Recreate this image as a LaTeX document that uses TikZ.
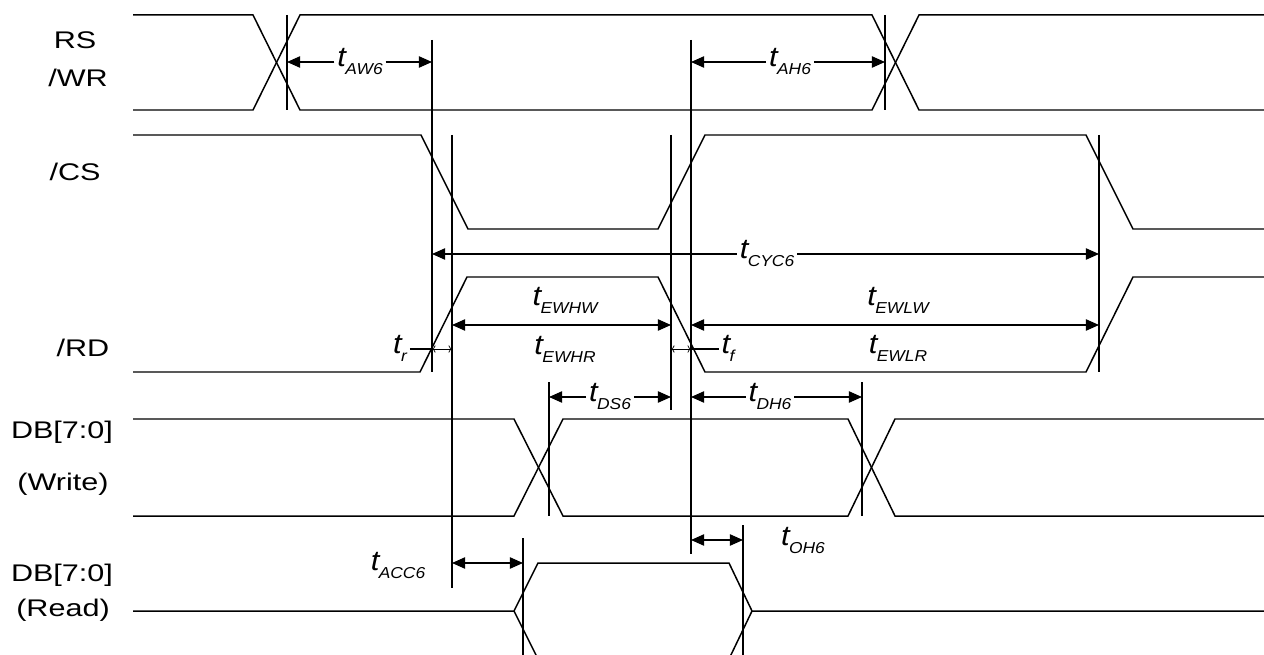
\documentclass[tikz,border=0pt]{standalone}
\usepackage{fontspec}
\setmainfont{Liberation Sans}
\usetikzlibrary{arrows.meta}
\newcommand{\wide}[1]{\scalebox{1.27}[1]{#1}}
\newcommand{\tsub}[1]{\scalebox{1.1}[1]{\itshape{\fontsize{16}{16}\selectfont t}\kern-0.3pt\raisebox{-4.5pt}{\fontsize{9}{9}\selectfont #1}}}

\begin{document}
\begin{tikzpicture}[x=0.02cm, y=-0.02cm,
  wave/.style={line width=0.85pt},
  guide/.style={line width=0.7pt},
  dim/.style={line width=0.7pt, -{Triangle[length=7.5pt,width=6.5pt]}},
  dimboth/.style={line width=0.7pt, {Triangle[length=7.5pt,width=6.5pt]}-{Triangle[length=7.5pt,width=6.5pt]}},
  tick/.style={line width=0.4pt, {To[length=2pt]}-{To[length=2pt]}},
  sig/.style={font=\fontsize{13.7}{16}\selectfont},
  lbl/.style={font=\fontsize{13.7}{16}\selectfont, anchor=mid, inner sep=1.5pt}]
\useasboundingbox (0,0) rectangle (1264,655);

% signal names
\node[sig] (lrs) at (75,40) {\wide{RS}};
\node[sig] (lwr) at (78,78) {\wide{/WR}};
\node[sig] (lcs) at (75,172) {\wide{/CS}};
\node[sig] (lrd) at (83,348) {\wide{/RD}};
\node[sig] (ldbw) at (62,432) {\wide{DB[7:0]}};
\node[sig] (lwrite) at (63,484) {\wide{(Write)}};
\node[sig] (ldbr) at (62,575) {\wide{DB[7:0]}};
\node[sig] (lread) at (63,610) {\wide{(Read)}};

% waveforms
\draw[wave] (133,15) -- (253,15) -- (300,110) -- (872,110) -- (919,15) -- (1264,15);
\draw[wave] (133,110) -- (253,110) -- (300,15) -- (872,15) -- (919,110) -- (1264,110);
\draw[wave] (133,135) -- (421,135) -- (468,229) -- (658,229) -- (705,135) -- (1086,135) -- (1133,229) -- (1264,229);
\draw[wave] (133,372) -- (420,372) -- (467,277) -- (658,277) -- (705,372) -- (1086,372) -- (1133,277) -- (1264,277);
\draw[wave] (133,419) -- (514,419) -- (563,516) -- (848,516) -- (895,419) -- (1264,419);
\draw[wave] (133,516) -- (514,516) -- (563,419) -- (848,419) -- (895,516) -- (1264,516);
\draw[wave] (133,611) -- (514,611) -- (538,563) -- (729,563) -- (752,611) -- (1264,611);
\draw[wave] (514,611) -- (538,659) -- (729,659) -- (752,611);

% reference lines
\foreach \n/\x/\ya/\yb in {rsa/287/15/110, rsb/885/15/110, csf/432/40/372, csr/691/40/554,
    rdr/452/135/588, rdf/671/135/410, rde/1099/135/372, dwa/549/382/516, dwb/862/382/516,
    dra/523/538/655, drb/743/525/655}{
  \coordinate (\n) at (\x,\ya);
  \draw[guide] (\n) -- (\x,\yb);
}

% timing labels
\node[lbl] (aw6) at (360,62) {\tsub{AW6}};
\node[lbl] (ah6) at (790,62) {\tsub{AH6}};
\node[lbl] (cyc6) at (767,254) {\tsub{CYC6}};
\node[lbl] (ewhw) at (565,301) {\tsub{EWHW}};
\node[lbl] (ewhr) at (565,350) {\tsub{EWHR}};
\node[lbl] (ewlw) at (898,301) {\tsub{EWLW}};
\node[lbl] (ewlr) at (898,349) {\tsub{EWLR}};
\node[lbl] (ds6) at (610,397) {\tsub{DS6}};
\node[lbl] (dh6) at (770,397) {\tsub{DH6}};
\node[lbl] (acc6) at (398,566) {\tsub{ACC6}};
\node[lbl] (oh6) at (803,541) {\tsub{OH6}};
\node[lbl] (tr) at (400,349) {\tsub{r}};
\node[lbl] (tf) at (728,349) {\tsub{f}};

\coordinate (hw) at (0,325);
\coordinate (acc) at (0,563);
\coordinate (oh) at (0,540);

% dimension arrows
\draw[dim] (aw6.mid west) -- (rsa |- aw6.mid west);
\draw[dim] (aw6.mid east) -- (csf |- aw6.mid east);
\draw[dim] (ah6.mid west) -- (csr |- ah6.mid west);
\draw[dim] (ah6.mid east) -- (rsb |- ah6.mid east);
\draw[dim] (cyc6.mid west) -- (csf |- cyc6.mid west);
\draw[dim] (cyc6.mid east) -- (rde |- cyc6.mid east);
\draw[dimboth] (rdr |- hw) -- (rdf |- hw);
\draw[dimboth] (csr |- hw) -- (rde |- hw);
\draw[dim] (ds6.mid west) -- (dwa |- ds6.mid west);
\draw[dim] (ds6.mid east) -- (rdf |- ds6.mid east);
\draw[dim] (dh6.mid west) -- (csr |- dh6.mid west);
\draw[dim] (dh6.mid east) -- (dwb |- dh6.mid east);
\draw[dimboth] (rdr |- acc) -- (dra |- acc);
\draw[dimboth] (csr |- oh) -- (drb |- oh);
\draw[guide] (tr.mid east) -- (csf |- tr.mid east);
\draw[tick] (csf |- tr.mid east) -- (rdr |- tr.mid east);
\draw[tick] (rdf |- tf.mid west) -- (csr |- tf.mid west);
\draw[guide] (csr |- tf.mid west) -- (tf.mid west);
\end{tikzpicture}
\end{document}
